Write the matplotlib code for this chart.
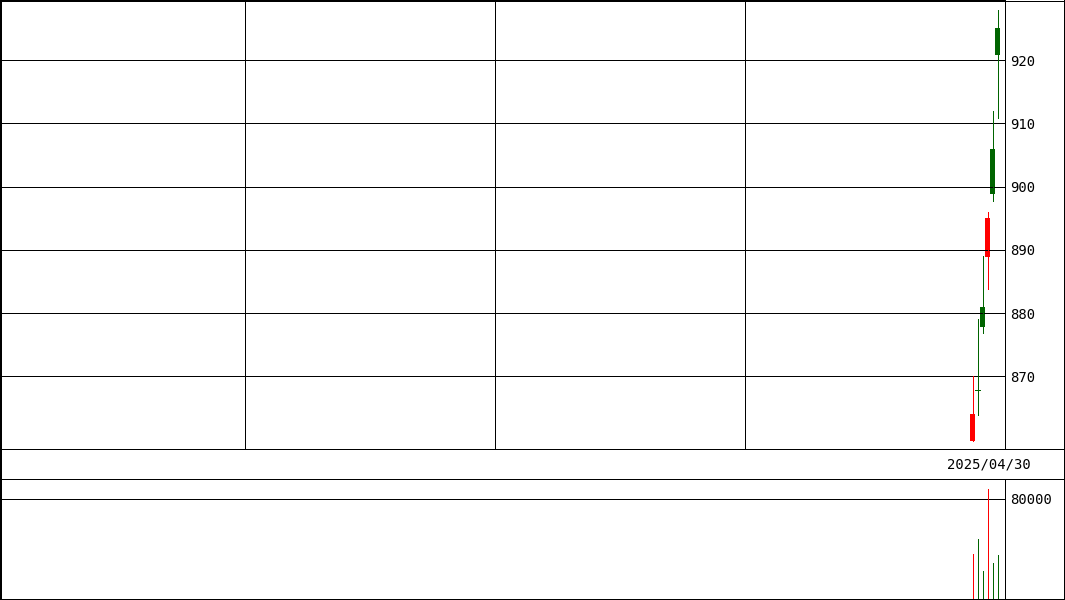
import matplotlib
matplotlib.use("Agg")
import matplotlib.pyplot as plt
from matplotlib.lines import Line2D

W, H = 1065, 600

# slots 1..201 are shown, only the last days have trades
days = [195, 196, 197, 198, 199, 200]
opens = [859.8, 867.9, 880.9, 888.9, 905.9, 925.1]
closes = [864.0, 867.9, 877.8, 895.0, 898.8, 920.8]
highs = [870.0, 879.0, 889.0, 896.0, 911.9, 927.9]
lows = [859.8, 863.9, 876.9, 883.8, 897.8, 910.9]
volumes = [35900, 47800, 22400, 87400, 28800, 35100]
price_ticks = [870, 880, 890, 900, 910, 920]
vol_ticks = [80000]
date_label = "2025/04/30"

UP = "#ff0000"
DOWN = "#006400"
PX = 0.72  # one pixel in points


def frac(x0, y0, x1, y1):
    # pixel box (top-left origin) -> figure fraction
    return [x0 / W, 1 - y1 / H, (x1 - x0) / W, (y1 - y0) / H]


def colour(o, c):
    return UP if c > o else DOWN


fig = plt.figure(figsize=(W / 100, H / 100), dpi=100)
plt.rcParams["font.family"] = "DejaVu Sans Mono"

price = fig.add_axes(frac(0, 0, 1005, 449.3))
dates = fig.add_axes(frac(0, 449.3, 1063.7, 479.3))
vol = fig.add_axes(frac(0, 479.3, 1005, 599.3))

for ax in (price, dates, vol):
    for s in ax.spines.values():
        s.set_linewidth(PX)
        s.set_color("black")
        s.set_antialiased(False)

# price panel
price.set_xlim(0.5, 201.5)
price.set_ylim(858.45, 929.54)
for x in (49.5, 99.5, 149.5):
    price.axvline(x, color="black", lw=PX, antialiased=False)
for y in price_ticks:
    price.axhline(y, color="black", lw=PX, antialiased=False)

for d, o, c, h, l in zip(days, opens, closes, highs, lows):
    col = colour(o, c)
    price.vlines(d, l, h, color=col, lw=PX, antialiased=False)
    if abs(c - o) < 0.05:
        price.hlines(o, d - 0.5, d + 0.5, color=col, lw=PX, antialiased=False)
    else:
        price.bar(d, abs(c - o), bottom=min(o, c), width=1.0, color=col,
                  lw=0, antialiased=False)

price.set_xticks([])
price.set_yticks(price_ticks)
price.yaxis.tick_right()
price.tick_params(axis="y", length=0, pad=4, labelsize=10)

# date strip
dates.set_xticks([])
dates.set_yticks([])
dates.text(0.93, 0.48, date_label, transform=dates.transAxes,
           ha="center", va="center", fontsize=10)

# volume panel
vol.set_xlim(0.5, 201.5)
vol.set_ylim(0, 95300)
for y in vol_ticks:
    vol.axhline(y, color="black", lw=PX, antialiased=False)
for d, o, c, v in zip(days, opens, closes, volumes):
    vol.vlines(d, 0, v, color=colour(o, c), lw=PX, antialiased=False)
vol.hlines(0, 0.5, days[0] - 0.5, color=DOWN, lw=PX, zorder=5,
           linestyles=(0, (1, 4)), clip_on=False, antialiased=False)
vol.set_xticks([])
vol.set_yticks(vol_ticks)
vol.yaxis.tick_right()
vol.tick_params(axis="y", length=0, pad=4, labelsize=10)

# outer frame
for xs, ys in (([0, 1065], [0.5, 0.5]), ([1063.7, 1063.7], [0, 600]),
               ([0.5, 0.5], [0, 600]), ([0, 1065], [599.3, 599.3])):
    fig.add_artist(Line2D([x / W for x in xs], [1 - y / H for y in ys],
                          color="black", lw=PX, antialiased=False))

fig.savefig("out.png", dpi=100)
